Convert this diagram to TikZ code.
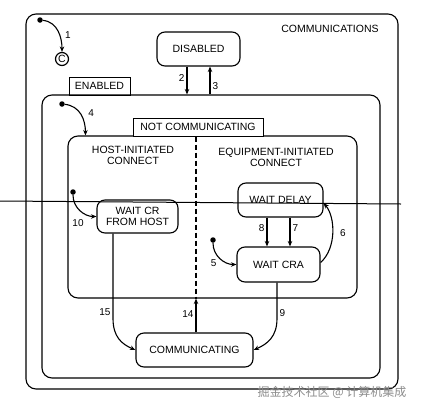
\documentclass[tikz,border=0pt]{standalone}
\usepackage{fontspec}
\setmainfont{Liberation Sans}
\newfontfamily\cjkfont{Noto Sans CJK SC}
\usetikzlibrary{arrows.meta, positioning, calc}
\newcommand{\statefont}{\fontsize{10.5}{11}\selectfont}
\newcommand{\numfont}{\fontsize{10}{11}\selectfont}
\tikzset{
    region/.style={draw, rounded corners=10pt, line width=1.1pt, inner sep=0pt},
    state/.style={draw, rounded corners=8pt, line width=1.1pt, align=center, inner sep=0pt, font=\statefont},
    tab/.style={draw, line width=1pt, minimum height=18pt, inner sep=2pt, font=\statefont},
    trans/.style={-{Stealth[length=5.5pt, width=4.5pt]}, line width=1.1pt},
    init/.style={circle, fill, inner sep=0pt, minimum size=5.5pt},
    num/.style={font=\numfont, inner sep=2pt}
}

\begin{document}
\begin{tikzpicture}[x=1pt, y=-1pt]
    \useasboundingbox (0,0) rectangle (421,408);
    % nested regions
    \node[region, minimum width=372pt, minimum height=375pt] (comms) at (212,201.5) {};
    \node[region, minimum width=338pt, minimum height=283pt] (enabled) at (211,236.5) {};
    \node[region, minimum width=289pt, minimum height=162pt] (notcomm) at (212.5,217) {};
    \node[tab, minimum width=61pt] (enabledtab) at (99.5,86) {ENABLED};
    \node[tab, minimum width=130pt, fill=white] (notcommtab) at (198,127) {NOT COMMUNICATING};
    \node[font=\statefont] (commstitle) at (330,29) {COMMUNICATIONS};
    \node[font=\statefont, align=center] (hosttitle) at (133,155) {HOST-INITIATED\\CONNECT};
    \node[font=\statefont, align=center] (equiptitle) at (276,157) {EQUIPMENT-INITIATED\\CONNECT};
    \draw[line width=1.1pt, dash pattern=on 5pt off 3pt] ([xshift=-2pt]notcommtab.south) -- ([xshift=-2pt]notcommtab.south |- notcomm.south);

    % states
    \node[state, minimum width=83pt, minimum height=34pt] (disabled) at (198.5,49) {DISABLED};
    \node[state, minimum width=81pt, minimum height=33pt] (waitcr) at (137.5,216.5) {WAIT CR\\FROM HOST};
    \node[state, minimum width=85pt, minimum height=34pt] (waitdelay) at (280.5,200) {WAIT DELAY};
    \node[state, minimum width=83pt, minimum height=35pt] (waitcra) at (278.5,264.5) {WAIT CRA};
    \node[state, minimum width=117pt, minimum height=34pt] (communicating) at (194.5,350) {COMMUNICATING};
    \node[draw, circle, line width=1.2pt, minimum size=13pt, inner sep=0pt, font=\statefont] (cond) at (62,59) {C};

    % default entries
    \node[init] (start1) at (40,20) {};
    \node[init] (start4) at (62,104) {};
    \node[init] (start10) at (73,192) {};
    \node[init] (start5) at (213,240) {};

    % transitions
    \draw[trans] (start1) .. controls +(18,2) and +(0,-14) .. (cond.north) node[num, pos=0.6, right=3pt] {1};
    \draw[trans] ([xshift=-11.5pt]disabled.south) -- ([xshift=-11.5pt]disabled.south |- enabled.north) node[num, pos=0.4, left] {2};
    \draw[trans] ([xshift=11.5pt]disabled.south |- enabled.north) -- ([xshift=11.5pt]disabled.south) node[num, pos=0.3, right] {3};
    \draw[trans] (start4) .. controls +(18,2) and +(0,-16) .. ($(notcomm.north west)+(18,0)$) node[num, pos=0.45, right=6pt] {4};
    \draw[trans] (start5) .. controls +(0,16) and +(-12,0) .. (waitcra.west) node[num, pos=0.45, below left] {5};
    \draw[trans] ([yshift=2pt]waitcra.east) .. controls +(16,-14) and +(12,14) .. ([yshift=-3pt]waitdelay.east) node[num, pos=0.5, right=5pt] {6};
    \draw[trans] ([xshift=9.5pt]waitdelay.south) -- ([xshift=9.5pt]waitdelay.south |- waitcra.north) node[num, pos=0.35, right] {7};
    \draw[trans] ([xshift=-13.5pt]waitdelay.south) -- ([xshift=-13.5pt]waitdelay.south |- waitcra.north) node[num, pos=0.35, left] {8};
    \draw[trans] ([xshift=-1.5pt]waitcra.south) -- node[num, pos=0.86, right] {9} ++(0,36) .. controls +(0,18) and +(14,-6) .. (communicating.east);
    \draw[trans] (start10) .. controls +(0,16) and +(-12,0) .. (waitcr.west) node[num, pos=0.6, below=4pt, xshift=-5pt] {10};
    \draw[trans] ([xshift=1.5pt]communicating.north) -- ([xshift=1.5pt]communicating.north |- notcomm.south) node[num, pos=0.55, left] {14};
    \draw[trans] ([xshift=-24.5pt]waitcr.south) -- node[num, pos=0.92, left] {15} ++(0,85) .. controls +(0,18) and +(-14,-6) .. (communicating.west);

    % scan line and mark
    \draw[line width=1pt] (0,201) -- (401,204);
    \node[text=black!45, font=\cjkfont\fontsize{12}{12}\selectfont, anchor=east] (mark) at (410,392) {掘金技术社区 @ 计算机集成};
\end{tikzpicture}
\end{document}
